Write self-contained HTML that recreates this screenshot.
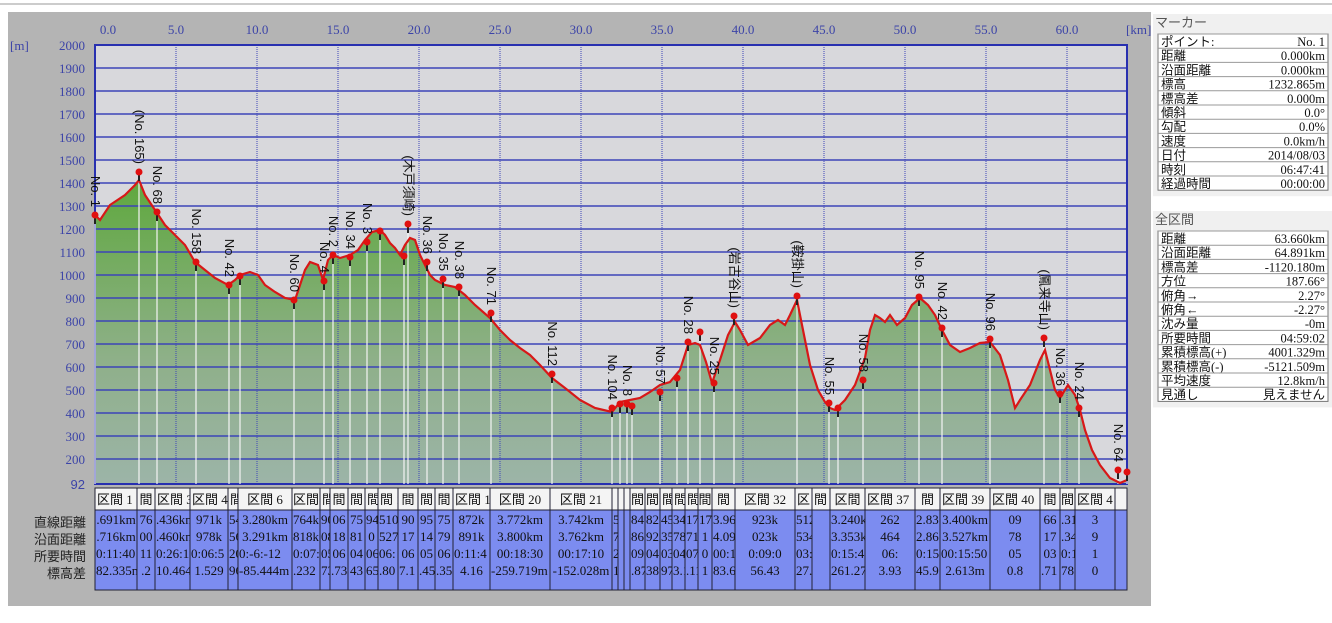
<!DOCTYPE html>
<html><head><meta charset="utf-8">
<style>
body{margin:0;width:1332px;height:623px;background:#fff;overflow:hidden;font-family:"Liberation Serif","Noto Serif CJK SC","Noto Sans CJK JP",serif}
svg{position:absolute;left:0;top:0}
</style></head><body>
<svg id="s" width="1332" height="623" xmlns="http://www.w3.org/2000/svg" font-family="Liberation Serif, Noto Sans CJK JP, serif">
<rect x="0" y="0" width="1332" height="623" fill="#fff"/>
<line x1="0" y1="4" x2="1332" y2="4" stroke="#999"/>
<rect x="8" y="12" width="1143" height="594" fill="#b4b4b4"/>
<rect x="95" y="45" width="1032" height="439" fill="#d8d8dc"/>
<g id="g"></g>
</svg>
<script>
const s=document.getElementById('g');const NS='http://www.w3.org/2000/svg';
function el(t,a,txt,p){const e=document.createElementNS(NS,t);for(const k in a)e.setAttribute(k,a[k]);if(txt!==undefined)e.textContent=txt;(p||s).appendChild(e);return e;}
const X=km=>95+km*16.2, Y=m=>45+(2000-m)*0.23;
const P=[[95,215],[100,220],[110,205],[125,195],[135,185],[139,180],[145,195],[155,210],[165,225],[175,235],[185,245],[195,262],[205,270],[215,278],[228,285],[235,280],[240,275],[250,272],[258,275],[265,285],[275,292],[285,298],[295,300],[300,285],[305,270],[310,262],[318,265],[323,280],[328,260],[333,255],[340,258],[350,255],[358,250],[365,240],[372,232],[380,230],[385,235],[390,243],[395,248],[400,255],[405,245],[410,238],[415,240],[420,255],[425,265],[430,275],[435,280],[445,285],[455,287],[465,295],[475,305],[490,318],[500,330],[510,340],[520,348],[530,355],[540,365],[552,378],[565,388],[580,400],[595,408],[612,412],[620,402],[630,400],[640,398],[650,392],[660,385],[670,382],[680,370],[688,345],[695,343],[700,345],[706,362],[712,383],[720,360],[728,335],[735,322],[740,330],[748,345],[760,338],[770,325],[778,320],[785,325],[790,315],[797,300],[803,330],[810,365],[818,390],[825,402],[830,408],[835,410],[845,400],[855,385],[865,358],[870,330],[875,315],[880,318],[885,322],[890,315],[897,325],[905,318],[912,305],[920,298],[928,305],[935,315],[942,330],[950,345],[960,352],[970,348],[980,343],[990,342],[1000,355],[1008,380],[1015,408],[1020,400],[1030,385],[1040,360],[1045,350],[1050,370],[1055,390],[1060,398],[1068,385],[1075,395],[1080,410],[1085,430],[1092,450],[1100,465],[1110,478],[1120,483],[1127,480]];
const defs=el('defs',{});const lg=document.createElementNS(NS,'linearGradient');lg.id='gr';lg.setAttribute('x1',0);lg.setAttribute('y1',0);lg.setAttribute('x2',0);lg.setAttribute('y2',1);
lg.innerHTML='<stop offset="0" stop-color="#5fa83e"/><stop offset="0.6" stop-color="#8fb08a"/><stop offset="1" stop-color="#9cb4a8"/>';defs.appendChild(lg);
const pts=P.map(p=>p.join(',')).join(' ');
el('polygon',{points:'95,484 '+pts+' 1127,484',fill:'url(#gr)'});
for(let m=200;m<=2000;m+=100){el('line',{x1:95,y1:Y(m),x2:1127,y2:Y(m),stroke:'#3c44b8','stroke-width':1.5});
 el('text',{x:85,y:Y(m)+5,'text-anchor':'end','font-size':13,fill:'#3c44a8'},m);}
el('text',{x:85,y:489,'text-anchor':'end','font-size':13,fill:'#3c44a8','font-family':'Liberation Sans'},'92');
for(let k=0;k<=60;k+=5){const x=X(k);if(k>0)el('line',{x1:x,y1:45,x2:x,y2:484,stroke:'#3c44b8','stroke-dasharray':'1,1'});
 el('text',{x:k==0?108:x,y:34,'text-anchor':'middle','font-size':13,fill:'#3c44a8'},k.toFixed(1));}
el('text',{x:10,y:50,'font-size':13,fill:'#3c44a8'},'[m]');
el('text',{x:1126,y:34,'font-size':13,fill:'#3c44a8'},'[km]');
el('rect',{x:95,y:45,width:1032,height:439,fill:'none',stroke:'#2830b0','stroke-width':2});
const M=[[95,215,'No. 1'],[139,172,'(No. 165)'],[157,212,'No. 68'],[196,262,'No. 158'],[229,285,'No. 42'],[240,276,''],[294,300,'No. 60'],[324,281,'No. 4'],[333,255,'No. 2'],[350,257,'No. 34'],[367,242,'No. 3'],[380,231,''],[404,256,''],[408,224,'(木戸須崎)'],[427,262,'No. 36'],[443,279,'No. 35'],[459,287,'No. 38'],[491,313,'No. 71'],[552,374,'No. 112'],[612,408,'No. 104'],[620,404,''],[627,404,'No. 8'],[632,406,''],[660,392,'No. 57'],[677,378,''],[688,342,'No. 28'],[700,332,''],[714,383,'No. 25'],[734,316,'(岩古谷山)'],[797,296,'(鞍掛山)'],[829,403,'No. 55'],[838,408,''],[863,380,'No. 58'],[919,297,'No. 95'],[942,328,'No. 42'],[990,339,'No. 96'],[1044,338,'(鳳来寺山)'],[1060,394,'No. 36'],[1079,408,'No. 24'],[1118,470,'No. 64'],[1127,472,'']];
const B=[95,137,155,190,228,238,292,320,330,348,365,378,398,418,435,453,490,550,612,618,624,630,645,660,672,685,698,712,735,795,812,830,865,915,940,990,1040,1060,1075,1115,1127];
const H=['区間 1','間','区間 3','区間 4','間','区間 6','区間','間','間','間','間','間 1','間','間','間','区間 1','区間 20','区間 21','','','','間','間','間','間','間','間','間','区間 32','区','間 3','区間','区間 37','間','区間 39','区間 40','間','間','区間 4',''];
const R=[
['.691km','.716km','0:11:40','82.335m'],['76','00','11','.2'],['.436km','.460km','0:26:10','10.464'],['971k','978k','0:06:5','1.529'],['54','56','20','96'],['3.280km','3.291km','0:-6:-12','-85.444m'],['764k','818k','0:07:4','.232'],['90','08','05','73'],['06','18','06','.73'],['75','81','04','43'],['94','0','06','65'],['510k','527k','06:','.80'],['90','17','06','7.1'],['95','14','05','.45'],['75','79','06','.35'],['872k','891k','0:11:4','4.16'],['3.772km','3.800km','00:18:30','-259.719m'],['3.742km','3.762km','00:17:10','-152.028m'],['5','7','2','1'],['','','',''],['','','',''],['845k','862k','09:2','.871'],['827','929','04','38'],['45','35','03','97'],['348','784','04','3.1'],['17','71','07','.11'],['17','1','0','1'],['3.961km','4.096km','00:15:00','83.640m'],['923k','023k','0:09:0','56.43'],['512','534','03:0','27.9'],['','','',''],['3.240km','3.353km','0:15:40','261.271m'],['262','464','06:','3.93'],['2.837km','2.865km','0:15:50','45.955m'],['3.400km','3.527km','00:15:50','2.613m'],['09','78','05','0.8'],['66','17','03','.71'],['.316km','.349km','0:10:3','78.671'],['3','9','1','0']];
for(const m of M){el('line',{x1:m[0],y1:m[1],x2:m[0],y2:484,stroke:'#f4f4f4','stroke-width':1.2});}
el('polyline',{points:pts,fill:'none',stroke:'#d81818','stroke-width':2.2});
for(const m of M){el('line',{x1:m[0],y1:m[1],x2:m[0],y2:m[1]+9,stroke:'#222','stroke-width':2});
 el('circle',{cx:m[0],cy:m[1],r:3.5,fill:'#e01010'});
 if(m[2]){el('text',{x:m[0]-4,y:m[1]-8,'font-size':13,fill:'#111','font-family':'Liberation Sans, Noto Sans CJK JP, sans-serif',transform:`rotate(90 ${m[0]-4} ${m[1]-8})`,'text-anchor':'end'},m[2]);}}
el('rect',{x:95,y:488,width:1032,height:22,fill:'#f4f4f4'});
el('rect',{x:95,y:510,width:1032,height:80,fill:'#7c8cf0'});
for(let i=0;i<B.length-1;i++){const x=B[i],w=B[i+1]-B[i];
 const cp=document.createElementNS(NS,'clipPath');cp.id='c'+i;el('rect',{x:x+1,y:488,width:w-1,height:102},undefined,cp);defs.appendChild(cp);
 const g=el('g',{'clip-path':'url(#c'+i+')'});
 el('line',{x1:x,y1:488,x2:x,y2:590,stroke:'#223','stroke-width':1});
 if(H[i]){const tw=H[i].length*11;const cx=tw<w-2?x+w/2:x+2;el('text',{x:cx,y:504,'text-anchor':tw<w-2?'middle':'start','font-size':13,fill:'#111'},H[i],g);}
 const r=R[i]||['','','',''];
 for(let k=0;k<4;k++){if(!r[k])continue;const tw=r[k].length*6.5;const fit=tw<w-2;
  el('text',{x:fit?x+w/2:x+1,y:524+k*17,'text-anchor':fit?'middle':'start','font-size':13,fill:'#111'},r[k],g);}}
el('line',{x1:1127,y1:488,x2:1127,y2:590,stroke:'#223'});
el('rect',{x:95,y:488,width:1032,height:102,fill:'none',stroke:'#223'});
el('line',{x1:95,y1:510,x2:1127,y2:510,stroke:'#223'});
['直線距離','沿面距離','所要時間','標高差'].forEach((t,i)=>el('text',{x:86,y:527+i*17,'text-anchor':'end','font-size':13,fill:'#222'},t));
function panel(y0,title,rows){el('rect',{x:1153,y:y0,width:179,height:16,fill:'#f0f0f0'});el('text',{x:1155,y:y0+13,'font-size':13,fill:'#555'},title);
 el('rect',{x:1153,y:y0+16,width:179,height:rows.length*14.2+10,fill:'#f0f0f0'});
 const ty=y0+20;el('rect',{x:1158,y:ty,width:170,height:rows.length*14.2,fill:'#fff',stroke:'#777'});
 rows.forEach((r,i)=>{const y=ty+i*14.2;el('line',{x1:1158,y1:y,x2:1328,y2:y,stroke:'#999'});
  el('text',{x:1161,y:y+12,'font-size':12.5,fill:'#111'},r[0]);el('text',{x:1325,y:y+12,'text-anchor':'end','font-size':12.5,fill:'#111'},r[1]);});}
panel(14,'マーカー',[['ポイント:','No. 1'],['距離','0.000km'],['沿面距離','0.000km'],['標高','1232.865m'],['標高差','0.000m'],['傾斜','0.0°'],['勾配','0.0%'],['速度','0.0km/h'],['日付','2014/08/03'],['時刻','06:47:41'],['経過時間','00:00:00']]);
panel(211,'全区間',[['距離','63.660km'],['沿面距離','64.891km'],['標高差','-1120.180m'],['方位','187.66°'],['俯角→','2.27°'],['俯角←','-2.27°'],['沈み量','-0m'],['所要時間','04:59:02'],['累積標高(+)','4001.329m'],['累積標高(-)','-5121.509m'],['平均速度','12.8km/h'],['見通し','見えません']]);
</script>
</body></html>
